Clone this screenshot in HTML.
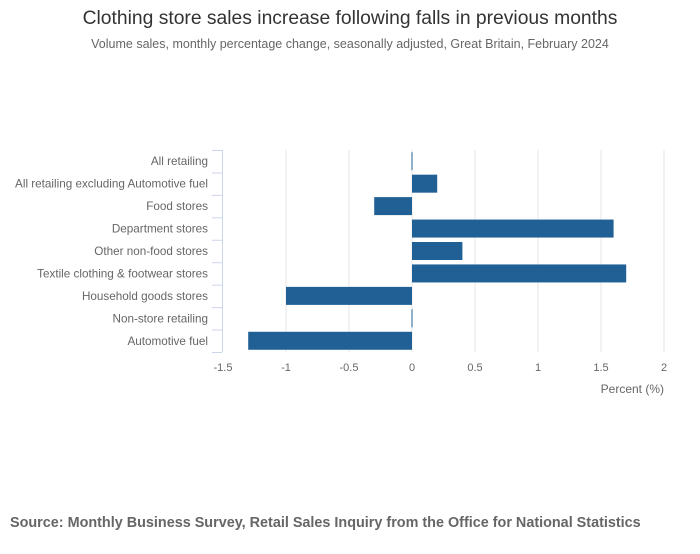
<!DOCTYPE html>
<html><head><meta charset="utf-8"><style>
body{margin:0;background:#fff;width:700px;height:549px;overflow:hidden;font-family:"Liberation Sans",sans-serif}
</style></head><body>
<svg width="700" height="549" xmlns="http://www.w3.org/2000/svg">
<text x="350" y="24" text-anchor="middle" font-size="19.3" fill="#333">Clothing store sales increase following falls in previous months</text>
<text x="350" y="48" text-anchor="middle" font-size="12.5" fill="#666">Volume sales, monthly percentage change, seasonally adjusted, Great Britain, February 2024</text>
<g id="plot"></g>
<text x="664" y="393" text-anchor="end" font-size="12" fill="#666">Percent (%)</text>
<text x="10" y="527" font-size="14.4" font-weight="bold" fill="#666">Source: Monthly Business Survey, Retail Sales Inquiry from the Office for National Statistics</text>
</svg>
<script>
const categories=["All retailing","All retailing excluding Automotive fuel","Food stores","Department stores","Other non-food stores","Textile clothing & footwear stores","Household goods stores","Non-store retailing","Automotive fuel"];
const values=[0,0.2,-0.3,1.6,0.4,1.7,-1.0,0,-1.3];
const ticks=[-1.5,-1,-0.5,0,0.5,1,1.5,2];
const tickLabels=["-1.5","-1","-0.5","0","0.5","1","1.5","2"];
const NS="http://www.w3.org/2000/svg";
const plotG=document.getElementById('plot');
const X0=223,X1=664,yTop=150,yBottom=352,xmin=-1.5,xmax=2;
const xs=v=>X0+(v-xmin)/(xmax-xmin)*(X1-X0);
const band=(yBottom-yTop)/categories.length;
const ys=i=>yTop+i*band;
function mk(t,a){const e=document.createElementNS(NS,t);for(const k in a)e.setAttribute(k,a[k]);plotG.appendChild(e);return e;}
ticks.forEach((t,i)=>{
  if(i>0){const l=mk('line',{x1:xs(t),x2:xs(t),y1:yTop,y2:yBottom,stroke:'#e6e6e6','stroke-width':1});
  
  }
  const tx=mk('text',{x:xs(t),y:371,'text-anchor':'middle','font-size':11,fill:'#666'});
  tx.textContent=tickLabels[i];
  
  
});
const ax=mk('line',{x1:222.5,x2:222.5,y1:yTop,y2:yBottom,stroke:'#ccd6eb','stroke-width':1});


for(let i=0;i<=categories.length;i++){
  const tk=mk('line',{x1:212,x2:222,y1:ys(i)+0.5,y2:ys(i)+0.5,stroke:'#ccd6eb','stroke-width':1});
  
  
}
categories.forEach((c,i)=>{
  const cy=ys(i)+band/2;
  const t=mk('text',{x:208,y:cy+4,'text-anchor':'end','font-size':11.7,fill:'#666'});
  t.textContent=c;
  
  
  const v=values[i];
  let bx=Math.min(xs(0),xs(v)),w=Math.abs(xs(v)-xs(0));
  if(w<1){w=1;bx=xs(0)-0.5;}
  const r=mk('rect',{x:bx,y:cy-9,width:w,height:18,fill:'#206095'});
  
  
});
</script>
</body></html>
